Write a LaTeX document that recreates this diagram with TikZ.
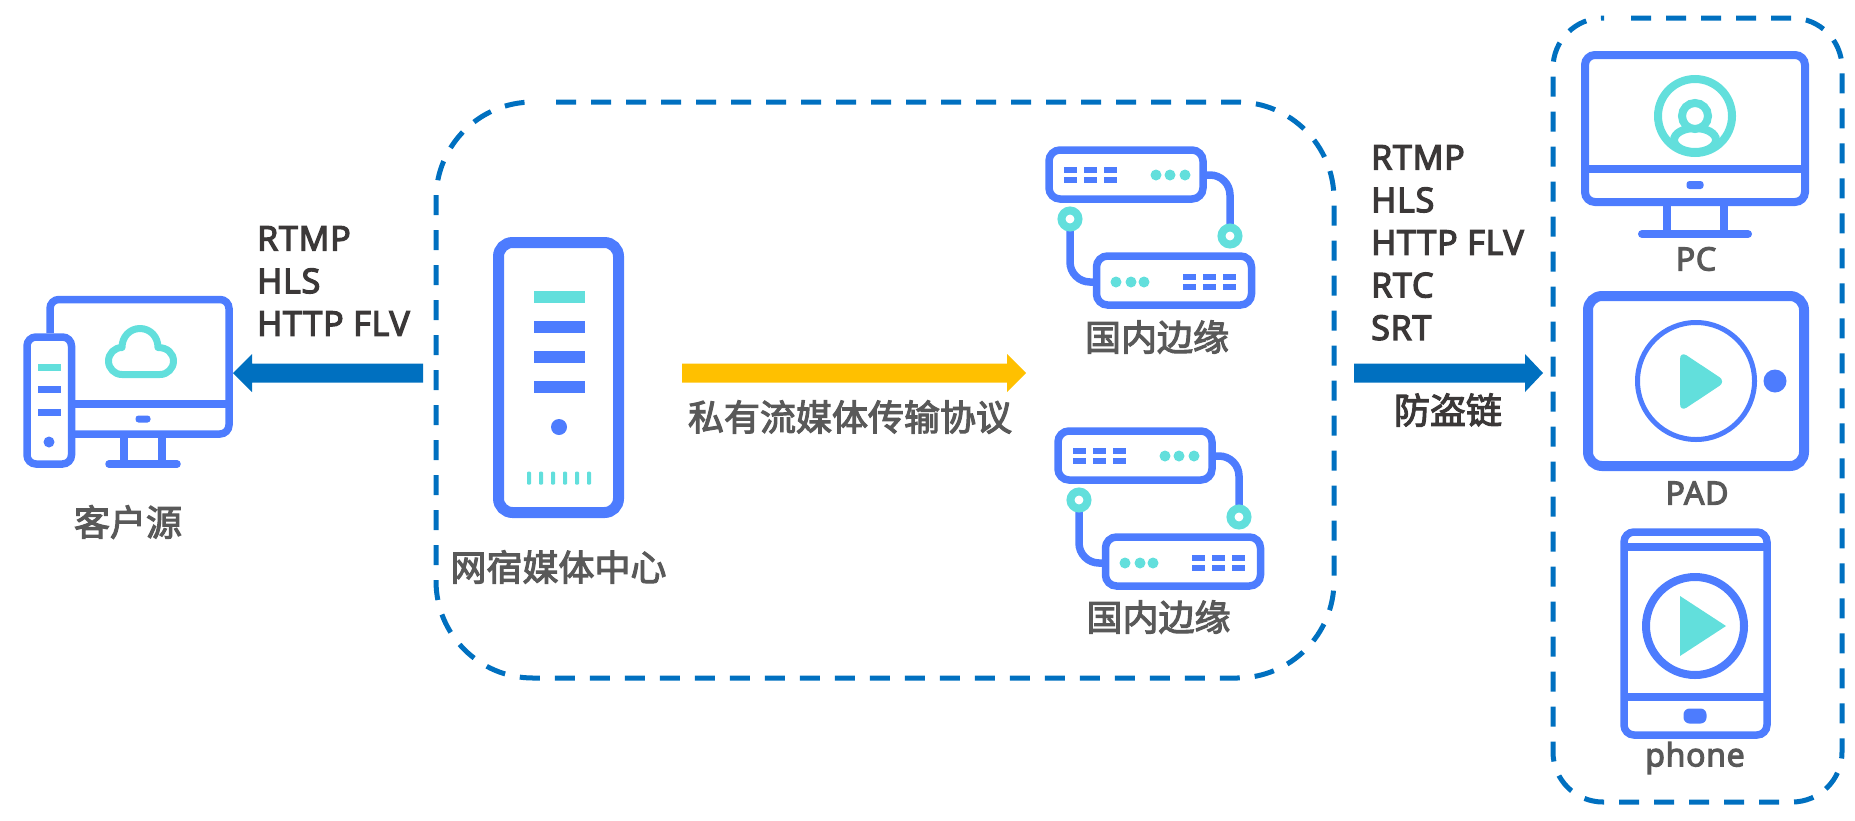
\documentclass[tikz,border=0pt]{standalone}
\usepackage{fontspec}
\setmainfont{Noto Sans CJK SC}
\newfontfamily\heavyfont[FakeBold=3]{Noto Sans CJK SC}
\newfontfamily\latinfont[FakeBold=4,LetterSpace=2.5]{Open Sans}
\definecolor{iconblue}{HTML}{4D7CFE}
\definecolor{iconteal}{HTML}{62DFDC}
\definecolor{linkblue}{HTML}{0070C0}
\definecolor{linkgold}{HTML}{FFC000}
\definecolor{labelgray}{HTML}{595959}
\definecolor{protogray}{HTML}{3B3838}
\tikzset{
    framebox/.style={draw=linkblue,line width=5pt,dash pattern=on 20pt off 15pt,dash phase=20pt},
    iconline/.style={draw=iconblue,line width=#1},
    iconline/.default=7.5pt,
    tealline/.style={draw=iconteal,line width=#1},
    tealline/.default=7pt,
    flatbar/.style={fill=iconblue},
    flatteal/.style={fill=iconteal},
    caption/.style={text=labelgray,font=\heavyfont\fontsize{36}{36}\selectfont,inner sep=0pt},
    devicename/.style={text=labelgray,font=\latinfont\fontsize{32}{32}\selectfont,inner sep=0pt},
    protolist/.style={text=protogray,font=\latinfont\fontsize{34}{42.6}\selectfont,inner sep=0pt,
        align=left,anchor=north west},
    pic arrow/.style={fill=#1,draw=none},
}
% rack unit pair, drawn with (0,0) at the top left corner of the upper unit
\newcommand{\rackpair}[2]{
    \begin{scope}[shift={(#1,#2)}]
        \draw[iconline,rounded corners=11pt] (0,0) rectangle (154,49);
        \draw[iconline,rounded corners=11pt] (47.5,106) rectangle (202.5,155);
        \draw[iconline,rounded corners=20pt] (154,25) -- (181,25) -- (181,75);
        \draw[iconline,rounded corners=20pt] (21,70) -- (21,132) -- (47.5,132);
        \draw[tealline=8pt,fill=white] (181,86) circle (8.5);
        \draw[tealline=8pt,fill=white] (21,69) circle (8.5);
        \foreach \x in {15,35,55} {
            \fill[flatbar] (\x,17) rectangle +(13,6);
            \fill[flatbar] (\x,27) rectangle +(13,6);
        }
        \foreach \x in {107,121,136}
            \fill[flatteal] (\x,25) circle (5.5);
        \foreach \x in {134,154,174} {
            \fill[flatbar] (\x,124) rectangle +(13,6);
            \fill[flatbar] (\x,134) rectangle +(13,6);
        }
        \foreach \x in {67,82,95}
            \fill[flatteal] (\x,132) circle (5.5);
    \end{scope}
}
\begin{document}
\begin{tikzpicture}[x=1pt,y=-1pt]
    \useasboundingbox (0,0) rectangle (1855,820);
    % dashed frames
    \draw[framebox,rounded corners=97pt] (541,102) -- (1334,102) -- (1334,678) -- (436,678) -- (436,102) -- (534,102);
    \draw[framebox,rounded corners=50pt] (1616,18) -- (1842,18) -- (1842,802) -- (1553,802) -- (1553,18) -- (1604,18);
    % customer source
    \draw[iconline,rounded corners=9pt] (50,333) -- (50,299.5) -- (229,299.5) -- (229,434) -- (75,434);
    \draw[iconline] (75,404) -- (229,404);
    \draw[iconline] (124,438) -- (124,460);
    \draw[iconline] (162,438) -- (162,460);
    \draw[iconline,line cap=round] (109,464) -- (177,464);
    \fill[flatbar,rounded corners=3pt] (135.5,415.5) rectangle (150.5,422.5);
    \draw[iconline,rounded corners=9pt] (27,337) rectangle (71.5,464);
    \fill[flatteal] (38,363.5) rectangle (61,370.5);
    \fill[flatbar] (38,385.5) rectangle (61,392.5);
    \fill[flatbar] (38,408.5) rectangle (61,415.5);
    \fill[flatbar] (49,442) circle (5.5);
    \draw[tealline,line join=round] (122,374.5) -- (160,374.5)
        .. controls (167.5,374.5) and (173.5,368.5) .. (173.5,361)
        .. controls (173.5,353.5) and (167.5,347.5) .. (158,347.5)
        .. controls (158,336.5) and (150,328.5) .. (140,328.5)
        .. controls (130,328.5) and (122,336.5) .. (122,347.5)
        .. controls (114.5,347.5) and (108.5,353.5) .. (108.5,361)
        .. controls (108.5,368.5) and (114.5,374.5) .. (122,374.5) -- cycle;
    \node[caption] (source) at (128,522) {客户源};
    \node[protolist] (protoleft) at (257,226) {RTMP\\HLS\\HTTP FLV};
    % media center
    \draw[iconline=11pt,rounded corners=14pt] (498.5,242.5) rectangle (618.5,512.5);
    \fill[flatteal] (534,291) rectangle (585,303);
    \foreach \y in {321,351,381}
        \fill[flatbar] (534,\y) rectangle +(51,12);
    \fill[flatbar] (559,427) circle (8);
    \foreach \x in {529,541,553,565,577,589}
        \fill[flatteal,rounded corners=1pt] (\x-2,471.5) rectangle +(4,13);
    \node[caption] (center) at (558.5,567) {网宿媒体中心};
    % edge nodes
    \rackpair{1049}{150}
    \node[caption] (edgeone) at (1157,337) {国内边缘};
    \rackpair{1058}{431}
    \node[caption] (edgetwo) at (1158.5,617) {国内边缘};
    % arrows
    \fill[pic arrow=linkblue] (423,363.5) -- (252,363.5) -- (252,354) -- (233,373)
        -- (252,392) -- (252,382.5) -- (423,382.5) -- cycle;
    \fill[pic arrow=linkgold] (682,363.5) -- (1007,363.5) -- (1007,354) -- (1026,373)
        -- (1007,392) -- (1007,382.5) -- (682,382.5) -- cycle;
    \fill[pic arrow=linkblue] (1354,363.5) -- (1525,363.5) -- (1525,354) -- (1543,373)
        -- (1525,392) -- (1525,382.5) -- (1354,382.5) -- cycle;
    \node[caption] (private) at (850,417) {私有流媒体传输协议};
    \node[protolist] (protoright) at (1371,145) {RTMP\\HLS\\HTTP FLV\\RTC\\SRT};
    \node[caption,text=protogray] (antileech) at (1448,410) {防盗链};
    % PC
    \draw[iconline=8pt,rounded corners=10pt] (1585,55) rectangle (1805,202);
    \draw[iconline=8pt] (1581,169) -- (1809,169);
    \fill[flatbar,rounded corners=3pt] (1686.5,181) rectangle +(17,8);
    \draw[iconline=8pt] (1667,206) -- (1667,232);
    \draw[iconline=8pt] (1724,206) -- (1724,232);
    \draw[iconline=8pt,line cap=round] (1642,234) -- (1748,234);
    \draw[tealline=8pt] (1695,116) circle (37);
    \draw[tealline=8pt] (1695,140) ellipse (21 and 12);
    \draw[tealline=8pt,fill=white] (1695,116) circle (13);
    \node[devicename] (pc) at (1696,259) {PC};
    % PAD
    \draw[iconline=10pt,rounded corners=14pt] (1588,296) rectangle (1804,466);
    \draw[iconline=5pt] (1696,381) circle (58.5);
    \fill[flatbar] (1775,381) circle (11.5);
    \fill[iconteal,rounded corners=8pt] (1680,351) -- (1726,381.5) -- (1680,412) -- cycle;
    \node[devicename] (pad) at (1697,493) {PAD};
    % phone
    \draw[iconline,rounded corners=10pt] (1624,532) rectangle (1767,735);
    \draw[iconline] (1624,547) -- (1767,547);
    \draw[iconline] (1624,697) -- (1767,697);
    \fill[flatbar,rounded corners=6pt] (1683.5,708.5) rectangle +(23,15);
    \draw[iconline=8pt] (1695,626) circle (49);
    \fill[flatteal] (1680,596) -- (1726,626) -- (1680,656) -- cycle;
    \node[devicename] (phone) at (1695,758) {phone};
\end{tikzpicture}
\end{document}
